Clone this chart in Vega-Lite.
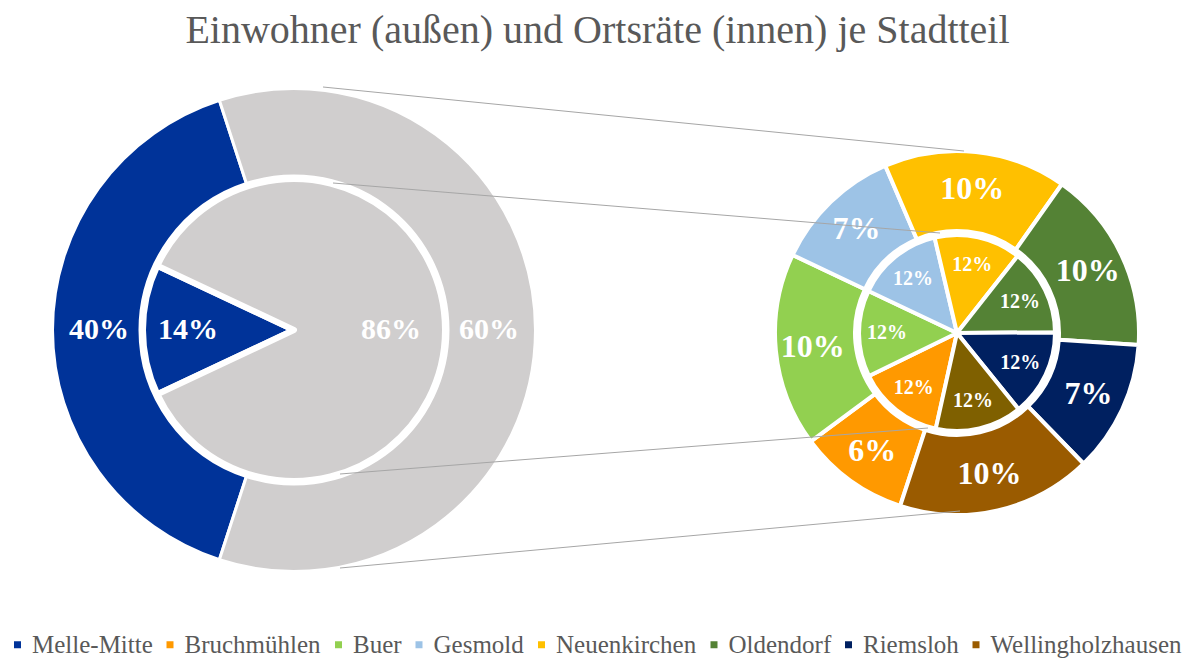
{
  "$schema": "https://vega.github.io/schema/vega-lite/v6.json",
  "width": 1195,
  "height": 660,
  "autosize": {"type": "none"},
  "padding": 0,
  "background": "white",
  "config": {"view": {"stroke": null}},
  "title": {
    "text": "Einwohner (außen) und Ortsräte (innen) je Stadtteil",
    "font": "Liberation Serif",
    "fontSize": 40,
    "fontWeight": "normal",
    "color": "#595959",
    "anchor": "middle",
    "dy": 55
  },
  "datasets": {
    "linksAussen": [
      {"teil": "Melle-Mitte", "nr": 1, "anteil": 0.40},
      {"teil": "Rest", "nr": 2, "anteil": 0.60}
    ],
    "linksInnen": [
      {"teil": "Melle-Mitte", "nr": 1, "anteil": 0.14},
      {"teil": "Rest", "nr": 2, "anteil": 0.86}
    ],
    "rechtsAussen": [
      {"teil": "Bruchmühlen", "nr": 1, "anteil": 0.0587},
      {"teil": "Buer", "nr": 2, "anteil": 0.1033},
      {"teil": "Gesmold", "nr": 3, "anteil": 0.069},
      {"teil": "Neuenkirchen", "nr": 4, "anteil": 0.0973},
      {"teil": "Oldendorf", "nr": 5, "anteil": 0.0977},
      {"teil": "Riemsloh", "nr": 6, "anteil": 0.0702},
      {"teil": "Wellingholzhausen", "nr": 7, "anteil": 0.1038}
    ],
    "rechtsInnen": [
      {"teil": "Bruchmühlen", "nr": 1, "anteil": 0.1229},
      {"teil": "Buer", "nr": 2, "anteil": 0.1229},
      {"teil": "Gesmold", "nr": 3, "anteil": 0.1229},
      {"teil": "Neuenkirchen", "nr": 4, "anteil": 0.1229},
      {"teil": "Oldendorf", "nr": 5, "anteil": 0.1229},
      {"teil": "Riemsloh", "nr": 6, "anteil": 0.1229},
      {"teil": "Wellingholzhausen", "nr": 7, "anteil": 0.1229}
    ],
    "linien": [
      {"xa": 323, "ya": 87, "xb": 964, "yb": 151},
      {"xa": 333, "ya": 183, "xb": 940, "yb": 233},
      {"xa": 340, "ya": 474, "xb": 928, "yb": 428},
      {"xa": 340, "ya": 568, "xb": 960, "yb": 511}
    ]
  },
  "layer": [
    {
      "data": {"name": "linksAussen"},
      "encoding": {
        "theta": {"field": "anteil", "type": "quantitative", "stack": true, "scale": {"range": [3.4558, 9.739]}},
        "order": {"field": "nr", "type": "quantitative"},
        "x": {"datum": 294, "type": "quantitative", "scale": {"domain": [0, 1195], "nice": false, "zero": false}, "axis": null},
        "y": {"datum": 330, "type": "quantitative", "scale": {"domain": [0, 660], "nice": false, "zero": false, "reverse": true}, "axis": null}
      },
      "layer": [
        {
          "mark": {"type": "arc", "radius": 241.5, "radius2": 154, "stroke": "white", "strokeWidth": 3, "strokeJoin": "round"},
          "encoding": {
            "color": {
              "condition": {"test": "datum.teil === 'Rest'", "value": "#D0CECE"},
              "field": "teil",
              "type": "nominal",
              "scale": {
                "domain": ["Melle-Mitte", "Bruchmühlen", "Buer", "Gesmold", "Neuenkirchen", "Oldendorf", "Riemsloh", "Wellingholzhausen"],
                "range": ["#003399", "#FF9900", "#92D050", "#9DC3E6", "#FFC000", "#548235", "#002060", "#9A5B00"]
              },
              "legend": {
                "orient": "none",
                "legendX": 5,
                "legendY": 632,
                "direction": "horizontal",
                "columns": 8,
                "title": null,
                "symbolType": "square",
                "symbolSize": 49,
                "symbolStrokeWidth": 0,
                "labelFont": "Liberation Serif",
                "labelFontSize": 25,
                "labelColor": "#595959",
                "labelLimit": 400,
                "labelOffset": 2,
                "columnPadding": 4.5
              }
            }
          }
        },
        {
          "mark": {"type": "text", "radius": 195, "font": "Liberation Serif", "fontSize": 30, "fontWeight": "bold", "color": "white", "align": "center", "baseline": "middle"},
          "encoding": {
            "detail": {"field": "teil", "type": "nominal"},
            "text": {"field": "anteil", "type": "quantitative", "format": ".0%"}
          }
        }
      ]
    },
    {
      "data": {"name": "linksInnen"},
      "encoding": {
        "theta": {"field": "anteil", "type": "quantitative", "stack": true, "scale": {"range": [4.2726, 10.5558]}},
        "order": {"field": "nr", "type": "quantitative"},
        "x": {"datum": 294, "type": "quantitative"},
        "y": {"datum": 330, "type": "quantitative"}
      },
      "layer": [
        {
          "mark": {"type": "arc", "radius": 151, "radius2": 0, "stroke": "white", "strokeWidth": 6, "strokeJoin": "round"},
          "encoding": {
            "color": {
              "condition": {"test": "datum.teil === 'Rest'", "value": "#D0CECE"},
              "field": "teil",
              "type": "nominal"
            }
          }
        },
        {
          "mark": {"type": "text", "radius": {"expr": "datum.teil === 'Rest' ? 97 : 106"}, "font": "Liberation Serif", "fontSize": 30, "fontWeight": "bold", "color": "white", "align": "center", "baseline": "middle"},
          "encoding": {
            "detail": {"field": "teil", "type": "nominal"},
            "text": {"field": "anteil", "type": "quantitative", "format": ".0%"}
          }
        }
      ]
    },
    {
      "data": {"name": "rechtsAussen"},
      "encoding": {
        "theta": {"field": "anteil", "type": "quantitative", "stack": true, "scale": {"range": [3.4592, 9.7424]}},
        "order": {"field": "nr", "type": "quantitative"},
        "x": {"datum": 957, "type": "quantitative"},
        "y": {"datum": 333, "type": "quantitative"}
      },
      "layer": [
        {
          "mark": {"type": "arc", "radius": 182, "radius2": 102, "stroke": "white", "strokeWidth": 4, "strokeJoin": "round"},
          "encoding": {
            "color": {"field": "teil", "type": "nominal"}
          }
        },
        {
          "mark": {"type": "text", "radius": 145, "font": "Liberation Serif", "fontSize": 32, "fontWeight": "bold", "color": "white", "align": "center", "baseline": "middle"},
          "encoding": {
            "detail": {"field": "teil", "type": "nominal"},
            "text": {"field": "anteil", "type": "quantitative", "format": ".0%"}
          }
        }
      ]
    },
    {
      "data": {"name": "rechtsInnen"},
      "encoding": {
        "theta": {"field": "anteil", "type": "quantitative", "stack": true, "scale": {"range": [3.3598, 9.643]}},
        "order": {"field": "nr", "type": "quantitative"},
        "x": {"datum": 957, "type": "quantitative"},
        "y": {"datum": 333, "type": "quantitative"}
      },
      "layer": [
        {
          "mark": {"type": "arc", "radius": 98, "radius2": 0, "stroke": "white", "strokeWidth": 4, "strokeJoin": "round"},
          "encoding": {
            "color": {
              "condition": {"test": "datum.teil === 'Wellingholzhausen'", "value": "#7F6000"},
              "field": "teil",
              "type": "nominal"
            }
          }
        },
        {
          "mark": {"type": "text", "radius": 70, "font": "Liberation Serif", "fontSize": 20, "fontWeight": "bold", "color": "white", "align": "center", "baseline": "middle"},
          "encoding": {
            "detail": {"field": "teil", "type": "nominal"},
            "text": {"field": "anteil", "type": "quantitative", "format": ".0%"}
          }
        }
      ]
    },
    {
      "data": {"name": "linien"},
      "mark": {"type": "rule", "color": "#A6A6A6", "strokeWidth": 1},
      "encoding": {
        "x": {"field": "xa", "type": "quantitative"},
        "y": {"field": "ya", "type": "quantitative"},
        "x2": {"field": "xb"},
        "y2": {"field": "yb"}
      }
    }
  ],
  "resolve": {"scale": {"theta": "independent"}}
}
